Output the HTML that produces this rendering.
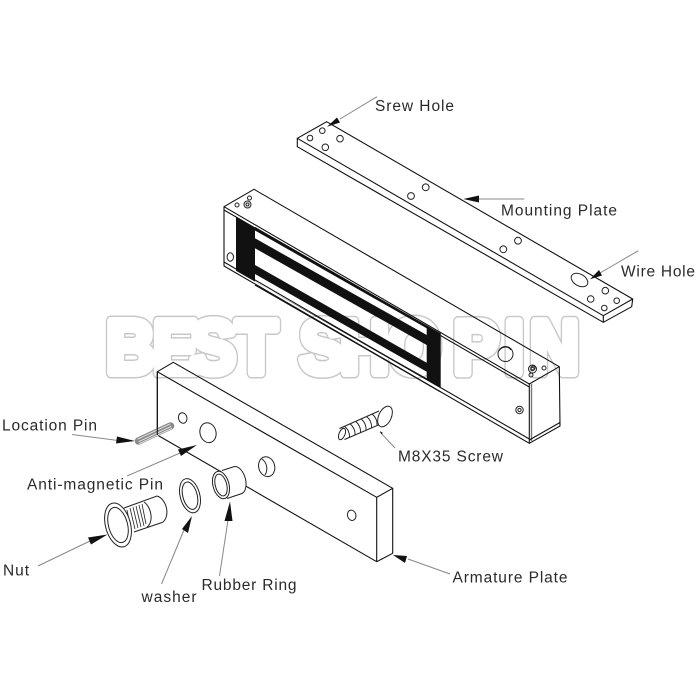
<!DOCTYPE html>
<html><head><meta charset="utf-8"><style>
html,body{margin:0;padding:0;background:#fff}
svg{display:block}
text.l{font-family:"Liberation Sans",sans-serif;font-size:15.5px;fill:#2a2a2a}
text.w{font-family:"Liberation Sans",sans-serif;font-weight:700;font-size:75px;stroke-linejoin:round;stroke-linecap:round}
.k{fill:none;stroke:#111;stroke-width:1.1}
.g{fill:none;stroke:#888;stroke-width:1}
.t{fill:none;stroke:#222;stroke-width:1}
</style></head><body>
<svg width="700" height="700" viewBox="0 0 700 700" xmlns="http://www.w3.org/2000/svg">
<rect width="700" height="700" fill="#fff"/>

<!-- Watermark (under the drawing) -->
<g transform="scale(.9 1)">
<text class="w" y="373" x="118 170 212 262 320 333 378 431 504 561 589" fill="#c8c8c8" stroke="#c8c8c8" stroke-width="11">BEST SHOPIN</text>
<text class="w" y="373" x="118 170 212 262 320 333 378 431 504 561 589" fill="#fff" stroke="#fff" stroke-width="8" aria-hidden="true">BEST SHOPIN</text>
</g>

<!-- Mounting plate -->
<g class="k" stroke-linejoin="round">
<path d="M297.3 138.3L326.7 121.7L632.7 299L603.3 315.7Z"/>
<path d="M297.3 138.3V146.7L603.3 322.3V315.7M603.3 322.3L631.7 306.7L632.7 299"/>
</g>
<g class="t" stroke-width="1.2">
<circle cx="310" cy="138" r="2.8"/><circle cx="322.3" cy="130.7" r="2.8"/><circle cx="340" cy="138.7" r="3.3"/><circle cx="325.3" cy="147.3" r="3.3"/>
<circle cx="411" cy="196" r="3.4"/><circle cx="425.7" cy="187.3" r="3.4"/><circle cx="503.3" cy="249.3" r="3.4"/><circle cx="518" cy="240.7" r="3.4"/>
<circle cx="605.3" cy="290.7" r="3.3"/><circle cx="590.7" cy="299" r="3.3"/><circle cx="616.7" cy="300.7" r="2.8"/><circle cx="604.3" cy="308" r="2.8"/>
<ellipse cx="579.5" cy="280" rx="9" ry="5.8" transform="rotate(30 579.5 280)"/>
</g>

<!-- Magnet body -->
<g class="k" stroke-linejoin="round">
<path d="M224 206.7L254 189.3L559.3 366.7L529.3 384Z"/>
<path d="M224 210L529.3 387"/>
<path d="M224 206.7V266L529.3 443.3V384"/>
<path d="M224 262L529.3 439"/>
<path d="M529.3 443.3L560 426L559.3 366.7"/>
<path d="M531.5 384V441" stroke="#777" stroke-width="1.4"/>
<path d="M529.3 440L560 422.5" />
</g>
<path fill-rule="evenodd" fill="#111" d="M236 216.7L440.7 334V388.3L236 270.7Z
M255 230.5L426.7 328.3V335L255 238.3Z
M255 248.3L426.7 345V362.7L255 265Z
M255 274L426.7 371.7V378.3L255 281.7Z"/>
<path class="k" d="M255 227.5L440.7 334M255 285L440.7 392"/>
<g class="t">
<ellipse cx="230.3" cy="257" rx="3.2" ry="4.2"/>
<circle cx="237" cy="205" r="2"/><circle cx="247.5" cy="204.5" r="3.5"/><circle cx="247.5" cy="204.5" r="1.5"/><circle cx="249.5" cy="198" r="2"/>
<circle cx="505.5" cy="354" r="7.5"/><path d="M499 351a7 7 0 0 1 12-1"/>
<circle cx="533" cy="368" r="2"/><circle cx="532.5" cy="369" r="4"/><circle cx="532.5" cy="369" r="1.7"/><circle cx="531" cy="375" r="2"/><circle cx="544" cy="368" r="2"/>
<circle cx="519.5" cy="410" r="3.7"/><circle cx="519.5" cy="410" r="1.6"/>
</g>

<!-- Screw -->
<g class="t">
<path d="M339.5 428.5L379 411M344.5 439.500L383 423"/>
<ellipse cx="342" cy="434" rx="3" ry="6" transform="rotate(22 342 434)" fill="#fff"/>
<path d="M344.500 426.300Q350 431 349.500 437.300M350 423.800Q355.500 428.500 355 434.800M355.500 421.300Q361 426 360.500 432.300M361 418.800Q366.500 423.500 366 429.800M366.500 416.400Q372 421 371.500 427.400M372 413.900Q377.500 418.500 377 424.900"/>
<ellipse cx="385" cy="416.500" rx="6.300" ry="11" transform="rotate(25 385 416.500)" fill="#fff"/>
</g>

<!-- Armature plate -->
<g class="k" stroke-width="1.3" stroke-linejoin="round">
<path d="M157.3 371.7L173.3 362.3L392.7 488.3L376.7 497.3Z"/>
<path d="M157.3 371.7V435L376.7 561.7V497.3"/>
<path d="M376.7 561.7L392.7 553.3V488.3"/>
</g>
<g class="t" stroke-width="1.2">
<ellipse cx="182.7" cy="418" rx="4.2" ry="5.3" transform="rotate(-15 182.7 418)"/>
<ellipse cx="208" cy="432.7" rx="8" ry="10" transform="rotate(-15 208 432.7)"/>
<ellipse cx="266.7" cy="466.7" rx="8" ry="10" transform="rotate(-15 266.7 466.7)"/>
<path d="M262 459a12 12 0 0 1 3 16"/>
<ellipse cx="351.7" cy="515.3" rx="4.2" ry="5.2" transform="rotate(-15 351.7 515.3)"/>
</g>

<!-- Location pin -->
<g fill="none" stroke-linecap="round">
<path d="M138.500 441L170.500 426" stroke="#8a8a8a" stroke-width="7.500"/>
<path d="M138 439L170 424M139 441.500L171 426.500M139.500 443.500L171.500 428.500" stroke="#eee" stroke-width=".9"/>
</g>
<path class="k" d="M157.300 371.700V435" stroke-width="1.300"/>

<!-- Rubber ring -->
<g class="t" stroke-width="1.2">
<path d="M222 470.500L233 467a8 14 -15 0 1 9 26.500L227 498.500" fill="#fff"/>
<ellipse cx="221" cy="485" rx="8" ry="14" transform="rotate(-15 221 485)" fill="#fff"/>
<ellipse cx="221" cy="485" rx="5.700" ry="11.200" transform="rotate(-15 221 485)"/>
</g>

<!-- Washer -->
<g class="t" stroke-width="1.2">
<ellipse cx="190" cy="495.700" rx="9.800" ry="17.500" transform="rotate(-15 190 495.700)"/>
<ellipse cx="190" cy="495.700" rx="7.200" ry="14" transform="rotate(-15 190 495.700)"/>
</g>

<!-- Nut -->
<g class="t" stroke-width="1.2">
<path d="M124 508L157 496a9.500 14 -15 0 1 5 26.500L134 532" fill="#fff"/>
<path d="M144 502a9 14 -15 0 1 3 25"/>
<path d="M127 510l4 20M130 508l5 21M133 507l5 21M136 506l5 21M139 505l5 21M142 504l4 20" stroke-width=".8"/>
<ellipse cx="118" cy="525" rx="12.500" ry="22.500" transform="rotate(-15 118 525)" fill="#fff"/>
<ellipse cx="118" cy="525" rx="9.500" ry="18" transform="rotate(-15 118 525)"/>
</g>

<!-- Leaders -->
<g class="g">
<path d="M377 96.700L340 119"/>
<path d="M524.300 199H478"/>
<path d="M638.300 250.700L600 273"/>
<path d="M72 434.500L118 440.500"/>
<path d="M127 476L180 453"/>
<path d="M38 566L90 541"/>
<path d="M161.500 584L184 530"/>
<path d="M219.500 576L228 520"/>
<path d="M450 574L408 559"/>
<path d="M380 432L395 448"/>
</g>
<g fill="#111">
<path d="M327 126.700L337 117.500L340 122.500Z"/>
<path d="M463.300 199L479 195.500V202.500Z"/>
<path d="M590 279.300L599 270L602 275.500Z"/>
<path d="M135 441L117 436.500L116 443.500Z"/>
<path d="M197 445L178 449.500L181 456Z"/>
<path d="M107.500 534.500L88 537.500L91 544.500Z"/>
<path d="M192 516L182 529L188 533Z"/>
<path d="M230 501.500L224.500 521H232.500Z"/>
<path d="M393 555L407 556L405 563Z"/>
<path d="M380 431l1.500 3l1.500-1Z"/>
</g>

<!-- Labels -->
<text class="l" x="375" y="111" textLength="79">Srew Hole</text>
<text class="l" x="501" y="215.500" textLength="116">Mounting Plate</text>
<text class="l" x="621" y="276.500" textLength="74">Wire Hole</text>
<text class="l" x="2" y="430.500" textLength="95">Location Pin</text>
<text class="l" x="27" y="489.500" textLength="136">Anti-magnetic Pin</text>
<text class="l" x="3" y="575.500" textLength="26">Nut</text>
<text class="l" x="141.500" y="602" textLength="55">washer</text>
<text class="l" x="201.500" y="590" textLength="95">Rubber Ring</text>
<text class="l" x="452.500" y="582.500" textLength="115">Armature Plate</text>
<text class="l" x="398" y="461.500" textLength="105">M8X35 Screw</text>
</svg>
</body></html>
